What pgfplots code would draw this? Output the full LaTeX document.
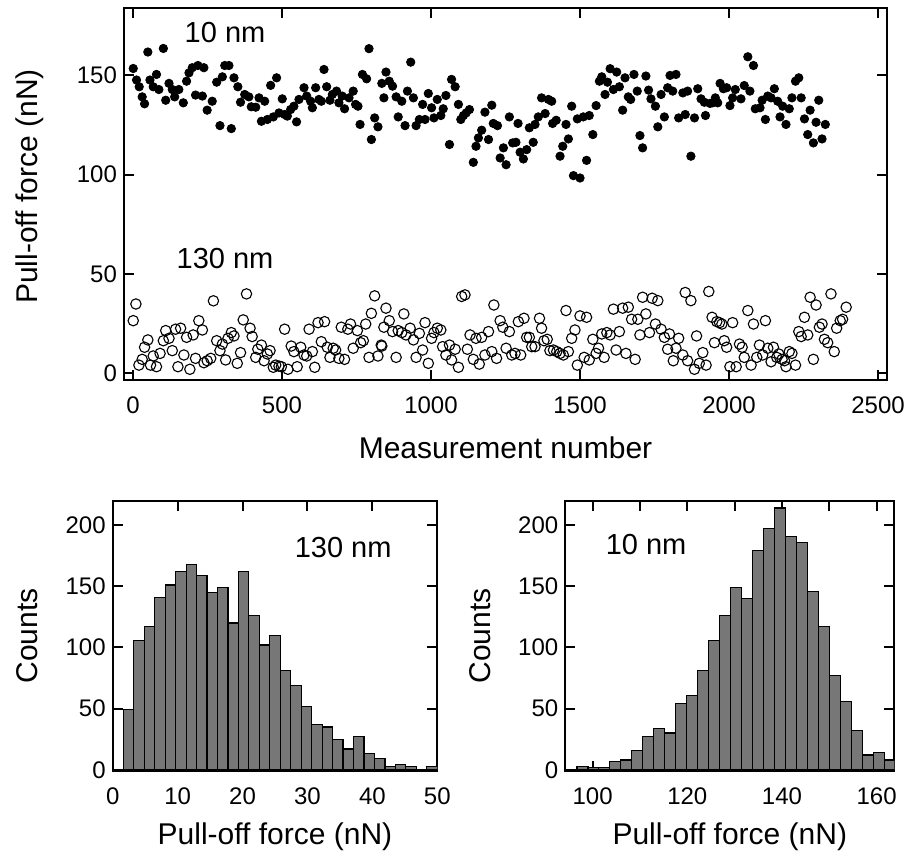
\documentclass[border=0pt]{standalone}
\usepackage{fontspec}
\setmainfont{Liberation Sans}
\usepackage{pgfplots}
\usepackage{pgfplotstable}
\pgfplotsset{compat=1.18}
\definecolor{barfill}{RGB}{119,119,119}

% Pull-off force versus measurement number, tip radius 10 nm
\pgfplotstableread{
m v
1 153.5
12 147.7
21 144.3
31 139.2
39 135.7
50 161.8
57 147.7
68 144.3
79 150.5
87 142.9
102 163.6
110 137.5
121 146.0
132 142.9
140 139.2
154 142.9
169 136.2
180 147.1
188 151.3
199 153.9
210 140.1
218 155.0
233 139.6
238 153.9
249 132.5
266 137.0
281 146.6
292 124.7
300 149.3
308 155.0
322 155.0
330 123.2
339 148.8
352 144.3
361 136.5
375 140.4
389 139.2
397 134.2
412 134.0
423 138.7
431 126.9
442 137.0
451 127.8
462 145.0
471 129.1
482 148.8
490 131.1
501 138.2
509 130.3
518 129.5
529 132.8
540 134.5
549 126.6
557 137.9
574 143.8
583 139.6
596 137.0
602 133.7
613 143.8
624 137.9
632 137.0
641 153.0
650 144.3
661 137.5
669 140.4
683 142.1
691 136.2
702 139.6
710 133.2
725 138.7
739 142.1
747 135.4
755 134.5
762 125.3
770 150.5
784 148.3
792 163.5
800 117.7
811 128.6
822 124.1
835 146.0
842 138.7
849 151.7
860 147.1
871 144.6
883 139.2
890 129.1
902 137.0
913 124.7
921 142.1
932 156.7
941 138.7
950 124.7
961 127.8
972 135.4
980 127.8
991 140.9
1002 133.7
1010 128.6
1021 137.9
1033 129.8
1041 133.2
1050 139.9
1062 115.2
1069 148.0
1081 144.3
1092 135.4
1100 127.8
1109 129.8
1118 131.1
1129 132.8
1142 106.2
1151 114.3
1159 118.5
1170 122.4
1181 131.5
1193 117.7
1204 135.0
1209 125.8
1223 124.7
1232 108.4
1243 113.5
1252 105.0
1263 129.1
1274 116.0
1285 116.3
1292 125.8
1299 111.3
1310 107.9
1321 112.6
1330 123.6
1343 116.3
1349 125.3
1360 129.1
1371 138.7
1383 130.8
1394 137.9
1405 137.0
1408 125.8
1420 127.4
1433 109.3
1442 114.3
1453 125.3
1461 118.0
1472 134.5
1478 99.5
1491 128.1
1500 98.3
1511 129.1
1522 107.2
1531 129.8
1543 120.2
1554 134.8
1565 147.1
1573 149.3
1584 140.4
1592 146.6
1601 153.4
1612 142.9
1623 151.7
1632 144.3
1643 132.5
1651 148.8
1662 139.2
1670 137.9
1681 150.5
1692 142.1
1701 119.7
1710 113.5
1721 149.7
1730 142.6
1738 138.2
1753 134.5
1761 124.1
1772 140.4
1783 129.1
1794 143.8
1802 150.0
1811 142.1
1822 150.5
1831 128.6
1845 141.2
1853 130.3
1861 142.1
1872 109.3
1884 128.6
1895 143.3
1906 138.2
1917 136.5
1921 129.8
1936 135.9
1945 136.2
1954 138.7
1962 136.2
1970 146.0
1981 143.3
1992 143.8
2003 134.8
2012 138.7
2021 142.9
2040 138.2
2051 144.9
2063 159.4
2070 142.1
2082 155.0
2088 133.2
2104 133.7
2111 137.5
2122 127.8
2130 139.6
2141 138.7
2152 143.3
2163 137.0
2171 129.1
2180 134.5
2191 125.3
2202 133.2
2211 138.7
2223 147.1
2234 148.8
2242 138.7
2253 128.1
2264 120.2
2272 132.5
2283 116.0
2292 126.4
2301 137.5
2312 118.0
2323 125.3
}\tenfull

% Pull-off force versus measurement number, tip radius 130 nm
\pgfplotstableread{
m v
1 26.4
10 34.8
20 4.0
31 6.9
39 13.0
50 16.7
59 4.0
68 8.6
79 3.2
91 9.9
102 16.3
110 21.4
121 17.5
132 11.3
143 22.1
151 3.2
160 22.6
171 9.1
180 18.0
191 1.9
202 19.2
210 7.4
221 26.4
233 21.7
238 5.2
249 6.2
261 7.4
270 36.4
281 16.3
292 11.3
300 14.6
311 6.6
319 17.5
330 20.4
339 18.7
350 4.9
361 10.3
370 26.8
381 39.9
393 22.6
400 18.4
412 7.9
419 12.0
431 14.1
440 6.2
451 9.6
460 11.3
471 2.9
479 4.0
490 3.5
498 3.2
509 22.1
520 1.9
531 13.6
540 10.8
551 3.2
563 13.0
574 9.1
583 8.6
591 22.1
602 10.8
610 2.9
621 25.4
632 15.8
643 25.9
652 13.0
661 7.9
672 12.5
680 11.6
691 7.4
699 23.1
710 6.9
721 22.1
730 24.7
739 12.5
753 21.4
764 15.3
773 16.3
781 24.7
792 7.9
800 30.1
811 38.9
822 8.6
833 14.1
835 13.6
842 23.1
849 32.7
860 26.4
871 20.9
883 7.9
890 21.4
902 20.4
909 29.8
916 19.2
930 22.6
941 16.7
950 7.9
961 20.0
972 11.6
980 25.4
991 4.9
1002 17.5
1010 20.4
1021 22.6
1033 21.7
1039 13.3
1050 9.1
1062 14.1
1069 6.6
1081 12.0
1092 2.9
1103 38.6
1114 39.4
1122 12.0
1131 19.2
1142 6.9
1151 17.5
1162 4.5
1170 18.0
1181 9.1
1193 20.9
1204 10.8
1211 34.3
1220 7.4
1232 26.4
1241 23.1
1252 12.5
1263 20.9
1271 9.1
1282 9.9
1293 25.9
1301 9.1
1312 27.6
1321 18.0
1330 18.0
1338 13.3
1349 13.3
1364 27.6
1371 22.6
1379 16.3
1390 17.0
1399 11.3
1411 11.6
1422 10.8
1433 9.9
1444 9.1
1453 31.5
1461 10.8
1472 17.5
1483 21.7
1491 4.0
1500 28.8
1514 7.9
1522 28.1
1531 6.6
1543 17.0
1554 9.9
1562 12.5
1573 19.7
1581 7.9
1590 20.4
1601 19.2
1612 32.2
1621 11.6
1632 20.9
1643 32.7
1654 9.9
1662 33.2
1673 27.1
1685 6.9
1694 27.1
1701 19.2
1710 38.2
1721 29.8
1733 20.4
1742 37.7
1753 24.7
1761 36.5
1772 22.1
1783 18.0
1794 12.0
1800 19.7
1813 6.2
1822 12.5
1831 17.5
1845 9.1
1853 40.6
1861 6.2
1872 36.5
1884 1.9
1891 18.7
1900 4.9
1912 10.3
1923 4.0
1932 41.1
1943 28.1
1951 15.3
1959 25.9
1968 25.4
1976 24.7
1984 16.3
1992 13.0
2003 3.2
2012 25.4
2024 3.2
2035 14.6
2044 13.0
2051 7.9
2063 31.5
2074 4.0
2082 24.7
2093 7.9
2102 14.1
2113 9.1
2122 26.4
2130 12.5
2141 5.7
2149 13.0
2160 7.9
2167 9.6
2178 6.9
2186 6.2
2191 3.2
2202 10.8
2211 9.9
2223 4.0
2234 20.9
2242 18.4
2253 28.1
2264 19.2
2272 38.2
2283 6.9
2292 34.3
2303 23.1
2312 24.7
2320 17.0
2331 15.3
2342 39.9
2353 10.8
2361 22.6
2373 26.4
2381 27.1
2393 33.2
}\bigfull

% Histogram, 130 nm: left bin edge and count (last row closes the final bin)
\pgfplotstableread{
x c
1.64 49
3.25 106
4.86 117
6.48 141
8.09 151
9.70 162
11.31 168
12.92 159
14.54 145
16.15 149
17.76 120
19.37 162
20.98 126
22.60 102
24.21 110
25.82 81
27.43 69
29.04 52
30.66 37
32.27 35
33.88 25
35.49 17
37.10 27
38.72 13
40.33 9
41.94 3
43.55 4
45.16 3
46.78 0
48.39 3
50.00 3
}\histbig

% Histogram, 10 nm
\pgfplotstableread{
x c
94.37 0
96.69 3
99.01 2
101.32 2
103.64 7
105.96 8
108.28 16
110.60 27
112.91 34
115.23 30
117.55 54
119.87 61
122.19 81
124.50 106
126.82 126
129.14 149
131.46 140
133.78 179
136.09 197
138.41 214
140.73 191
143.05 186
145.37 146
147.68 117
150.00 77
152.32 56
154.64 32
156.96 12
159.27 14
161.59 8
163.91 8
}\histten

\pgfplotsset{
  panel/.style={
    scale only axis,
    axis line style={line width=1pt},
    tick align=inside,
    xtick pos=both, ytick pos=both,
    major tick length=5pt, minor tick length=5pt,
    tick style={line width=1pt, black},
    tick label style={font=\fontsize{12}{14}\selectfont},
    xticklabel style={yshift=-5pt},
    label style={font=\fontsize{15}{18}\selectfont},
    /pgf/number format/assume math mode=true,
    /pgf/number format/1000 sep={},
    scaled ticks=false,
    clip=true,
  },
  bars/.style={ybar interval, fill=barfill, draw=black, line width=0.6pt},
}

\begin{document}
\begin{tikzpicture}
\path[use as bounding box] (0,0) rectangle (454.5pt,427.5pt);

% Force trace
\begin{axis}[panel, at={(62pt,237.5pt)}, anchor=south west,
  width=381.5pt, height=186pt,
  xmin=-30, xmax=2530, ymin=-3.5, ymax=184,
  xtick={0,500,...,2500}, ytick={0,50,100,150},
  xlabel={Measurement number}, ylabel={Pull-off force (nN)},
  xlabel style={at={(axis description cs:0.5,-0.183)}, anchor=center},
  ylabel style={at={(axis description cs:-0.123,0.52)}, anchor=center},
]
\addplot[only marks, mark=*, mark size=2.1pt, black] table[x=m, y=v] {\tenfull};
\addplot[only marks, mark=o, mark size=2.6pt, black, line width=0.55pt] table[x=m, y=v] {\bigfull};
\node[font=\fontsize{14.5}{17}\selectfont] at (axis cs:309,171.7) {10 nm};
\node[font=\fontsize{14.5}{17}\selectfont] at (axis cs:309,57.6) {130 nm};
\end{axis}

% Histogram, 130 nm
\begin{axis}[panel, at={(56.35pt,42pt)}, anchor=south west,
  width=162.3pt, height=135.15pt,
  xmin=0, xmax=50, ymin=-1, ymax=220,
  xtick={0,10,...,50}, ytick={0,50,...,200},
  xlabel={Pull-off force (nN)}, ylabel={Counts},
  xlabel style={at={(axis description cs:0.5,-0.244)}, anchor=center},
  ylabel style={at={(axis description cs:-0.264,0.5)}, anchor=center},
]
\addplot[bars] table[x=x, y=c] {\histbig};
\node[font=\fontsize{14.5}{17}\selectfont] at (axis cs:35.5,181.4) {130 nm};
\end{axis}

% Histogram, 10 nm
\begin{axis}[panel, at={(282.65pt,42pt)}, anchor=south west,
  width=164.5pt, height=135.15pt,
  xmin=94.23, xmax=163.73, ymin=-1, ymax=220,
  xtick={100,120,...,160}, minor xtick={110,130,150}, ytick={0,50,...,200},
  xlabel={Pull-off force (nN)}, ylabel={Counts},
  xlabel style={at={(axis description cs:0.5,-0.244)}, anchor=center},
  ylabel style={at={(axis description cs:-0.26,0.5)}, anchor=center},
]
\addplot[bars] table[x=x, y=c] {\histten};
\node[font=\fontsize{14.5}{17}\selectfont] at (axis cs:111.3,184.2) {10 nm};
\end{axis}
\end{tikzpicture}
\end{document}
